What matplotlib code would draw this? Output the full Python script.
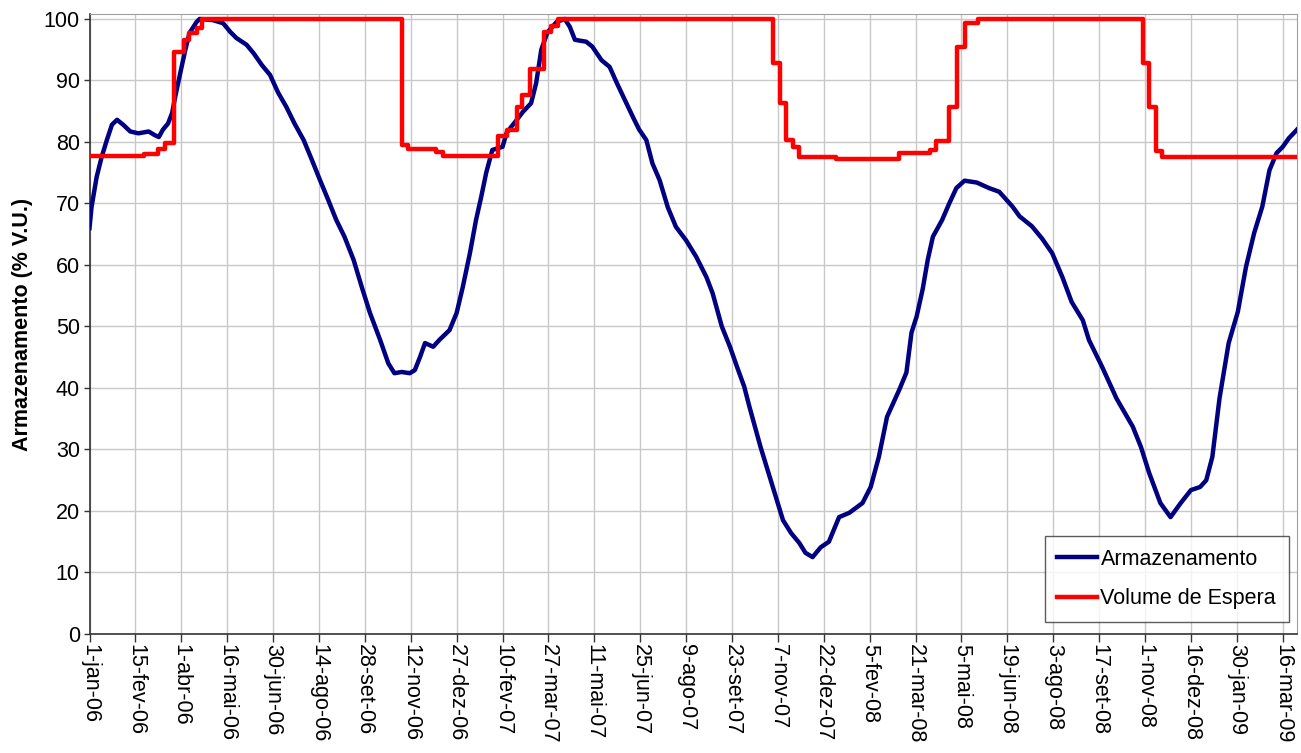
import matplotlib
matplotlib.use("Agg")
import matplotlib.pyplot as plt

plt.rcParams['font.family'] = ['Liberation Sans', 'DejaVu Sans']

# days counted from 1-jan-06
arm_day = [0, 2, 7, 12, 17, 22, 27, 33, 40, 48, 58, 64, 68, 72, 77, 81, 84, 89, 94, 98,
           105, 108, 121, 131, 138, 144, 154, 161, 169, 177, 185, 193, 201, 210, 218, 226,
           234, 242, 250, 259, 267, 275, 285, 293, 299, 306, 314, 319, 324, 329, 337, 343,
           353, 360, 366, 373, 379, 384, 389, 395, 405, 409, 419, 425, 433, 438, 443, 449,
           458, 466, 471, 476, 487, 493, 502, 510, 517, 525, 533, 539, 546, 552, 559, 567,
           575, 585, 595, 605, 611, 620, 628, 635, 642, 647, 658, 668, 680, 688, 696, 702,
           709, 717, 725, 735, 745, 758, 766, 774, 782, 794, 801, 806, 811, 817, 822, 827,
           836, 843, 850, 858, 870, 882, 892, 905, 912, 924, 934, 944, 954, 963, 974, 980,
           993, 1007, 1023, 1031, 1039, 1050, 1060, 1070, 1080, 1089, 1095, 1101, 1108, 1117,
           1126, 1134, 1142, 1150, 1157, 1164, 1170, 1176, 1184]
arm_val = [66.0, 69.4, 74.3, 77.6, 80.3, 82.8, 83.6, 82.8, 81.7, 81.4, 81.7, 81.1, 80.8, 82.0,
           83.0, 84.7, 87.3, 91.2, 95.0, 97.7, 99.5, 100.0, 99.8, 99.3, 97.9, 96.9, 95.8, 94.4,
           92.5, 90.9, 88.0, 85.7, 83.0, 80.3, 77.1, 73.8, 70.6, 67.3, 64.6, 60.8, 56.4, 52.2,
           47.8, 44.0, 42.4, 42.6, 42.4, 42.9, 45.0, 47.3, 46.7, 47.8, 49.4, 52.2, 56.4, 61.9,
           67.3, 71.0, 75.0, 78.7, 79.2, 81.5, 83.6, 84.9, 86.3, 89.6, 95.0, 97.8, 99.5, 100.0,
           98.7, 96.6, 96.3, 95.5, 93.3, 92.2, 89.6, 86.8, 84.0, 82.0, 80.3, 76.5, 73.8, 69.4,
           66.2, 64.0, 61.3, 58.0, 55.4, 50.0, 46.7, 43.4, 40.2, 37.0, 30.4, 25.0, 18.5, 16.4,
           14.8, 13.2, 12.5, 14.1, 15.0, 19.0, 19.7, 21.3, 23.9, 28.8, 35.3, 39.7, 42.5, 49.0,
           51.6, 56.1, 60.9, 64.6, 67.3, 70.0, 72.5, 73.7, 73.4, 72.5, 71.9, 69.5, 67.9, 66.3,
           64.3, 61.9, 58.0, 54.0, 51.0, 47.8, 43.4, 38.3, 33.7, 30.4, 26.2, 21.3, 19.0, 21.3,
           23.4, 23.9, 25.0, 28.8, 38.3, 47.3, 52.4, 59.7, 65.2, 69.5, 75.4, 78.2, 79.2, 80.6,
           82.0]

esp_day = [0, 53, 67, 74, 83, 93, 98, 105, 110, 306, 312, 340, 347, 401, 409, 419, 424, 432,
           446, 453, 459, 670, 677, 683, 690, 696, 732, 794, 824, 830, 843, 851, 858, 871, 1033,
           1039, 1046, 1052, 1184]
esp_val = [77.7, 78.1, 78.9, 79.8, 94.6, 96.6, 97.7, 98.5, 100.0, 79.5, 78.9, 78.3, 77.7, 81.0,
           82.0, 85.7, 87.6, 91.8, 97.8, 98.8, 100.0, 92.8, 86.3, 80.3, 79.2, 77.5, 77.2, 78.2,
           78.7, 80.2, 85.7, 95.5, 99.4, 100.0, 92.8, 85.6, 78.6, 77.5, 77.5]

tick_labels = ['1-jan-06', '15-fev-06', '1-abr-06', '16-mai-06', '30-jun-06', '14-ago-06',
               '28-set-06', '12-nov-06', '27-dez-06', '10-fev-07', '27-mar-07', '11-mai-07',
               '25-jun-07', '9-ago-07', '23-set-07', '7-nov-07', '22-dez-07', '5-fev-08',
               '21-mar-08', '5-mai-08', '19-jun-08', '3-ago-08', '17-set-08', '1-nov-08',
               '16-dez-08', '30-jan-09', '16-mar-09']
tick_days = [45 * i for i in range(len(tick_labels))]

fig = plt.figure(figsize=(13.01, 7.53), dpi=100)
ax = fig.add_axes([89.5 / 1301, 1 - 634 / 753, (1297 - 89.5) / 1301, (634 - 14) / 753])

ax.plot(arm_day, arm_val, color='#000080', lw=3.2, label='Armazenamento', zorder=3)
ax.step(esp_day, esp_val, where='post', color='#ff0000', lw=3.2, label='Volume de Espera',
        zorder=4)

ax.set_xlim(0, 1184)
ax.set_ylim(0, 100.8)
ax.set_yticks(range(0, 101, 10))
ax.set_xticks(tick_days)
ax.set_xticklabels(tick_labels, rotation=270, fontsize=15.5)
ax.tick_params(axis='y', labelsize=15.5, length=4, width=1, color='#333333', pad=3)
ax.tick_params(axis='x', length=6, width=1, color='#333333', pad=1)
ax.grid(True, color='#c8c8c8', lw=1)
ax.set_axisbelow(True)

for s in ['top', 'right']:
    ax.spines[s].set_color('#a0a0a0')
for s in ['left', 'bottom']:
    ax.spines[s].set_color('#333333')
    ax.spines[s].set_linewidth(1.2)

ax.set_ylabel('Armazenamento (% V.U.)', fontsize=15.5, fontweight='bold', labelpad=8)

leg = ax.legend(loc='lower right', bbox_to_anchor=(0.9934, 0.0194), borderaxespad=0,
                fontsize=15.5, frameon=True, fancybox=False, edgecolor='#333333',
                handlelength=1.85, handletextpad=0.15, labelspacing=0.85, borderpad=0.6)
leg.get_frame().set_linewidth(1)

fig.savefig('out.png', dpi=100)
